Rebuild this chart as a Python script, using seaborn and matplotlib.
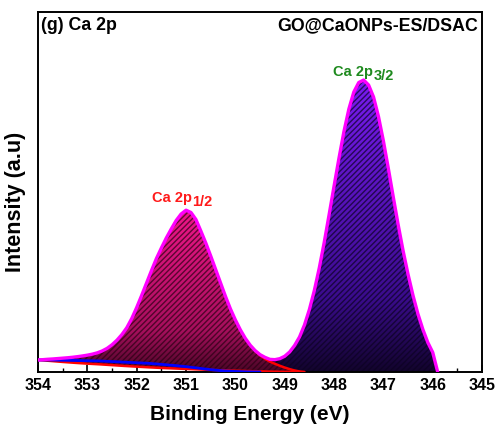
import matplotlib
matplotlib.use("Agg")
import numpy as np
import pandas as pd
import matplotlib.pyplot as plt
import seaborn as sns
from matplotlib.patches import Polygon
from matplotlib.colors import LinearSegmentedColormap
from matplotlib.ticker import MultipleLocator

# ---------------------------------------------------------------------------
# Ca 2p XPS fit of GO@CaONPs-ES/DSAC
# ---------------------------------------------------------------------------
# Fitted envelope (binding energy in eV, intensity in a.u.)
envelope_ev = [
    354.0, 353.9, 353.8, 353.7, 353.6, 353.5, 353.4, 353.3, 353.2, 353.1,
    353.0, 352.9, 352.8, 352.7, 352.6, 352.5, 352.4, 352.3, 352.2, 352.1,
    352.0, 351.9, 351.8, 351.7, 351.6, 351.5, 351.4, 351.3, 351.2, 351.1,
    351.0, 350.9, 350.8, 350.7, 350.6, 350.5, 350.4, 350.3, 350.2, 350.1,
    350.0, 349.9, 349.8, 349.7, 349.6, 349.5, 349.4, 349.3, 349.2, 349.1,
    349.0, 348.9, 348.8, 348.7, 348.6, 348.5, 348.4, 348.3, 348.2, 348.1,
    348.0, 347.9, 347.8, 347.7, 347.6, 347.5, 347.4, 347.3, 347.2, 347.1,
    347.0, 346.9, 346.8, 346.7, 346.6, 346.5, 346.4, 346.3, 346.2, 346.1,
    346.0, 345.9,
]
envelope_int = [
    12.0, 12.3, 12.7, 13.0, 13.4, 13.8, 14.2, 14.7, 15.3, 16.0,
    16.8, 17.8, 19.1, 21.0, 23.6, 27.2, 31.8, 37.4, 44.3, 53.5,
    64.5, 76.5, 89.0, 101.5, 113.5, 124.0, 134.0, 143.0, 151.5, 158.0,
    161.8, 159.5, 152.5, 141.0, 129.0, 116.0, 102.5, 89.0, 75.5, 63.0,
    52.0, 42.2, 33.7, 26.8, 21.4, 17.3, 14.6, 12.6, 12.3, 13.3,
    15.7, 20.0, 26.5, 35.0, 47.0, 62.5, 81.5, 104.0, 129.5, 157.5,
    186.0, 214.0, 240.5, 263.0, 280.0, 289.5, 292.0, 287.0, 275.0, 255.5,
    231.0, 203.5, 175.0, 147.0, 121.0, 97.5, 76.5, 58.0, 42.5, 29.5,
    19.5, 0.0,
]
valley_ev = 349.3

# Baseline under the Ca 2p1/2 component (red)
baseline_ev = [354.0, 353.75, 353.5, 353.25, 353.0, 352.75, 352.5, 352.25,
               352.0, 351.75, 351.5, 351.25, 351.0, 350.75, 350.5, 350.25,
               350.0, 349.75, 349.5, 349.25, 349.0, 348.75]
baseline_int = [12.0, 11.0, 10.0, 9.1, 8.3, 7.6, 6.8, 6.0,
                5.3, 4.6, 4.0, 3.5, 3.0, 2.5, 2.0, 1.6,
                1.2, 0.9, 0.6, 0.3, 0.1, 0.0]

# High-energy tail of the Ca 2p1/2 component past the valley (red)
p12_tail_ev = [349.6, 349.5, 349.4, 349.3, 349.2, 349.1, 349.0, 348.9,
               348.8, 348.7, 348.6]
p12_tail_int = [21.0, 16.6, 13.1, 10.3, 8.2, 6.2, 4.4, 2.8, 1.5, 0.5, 0.0]

# Shirley-type background (blue)
shirley_ev = [354.0, 353.75, 353.5, 353.25, 353.0, 352.75, 352.5, 352.25,
              352.0, 351.75, 351.5, 351.25, 351.0, 350.75, 350.5, 350.25,
              350.0, 349.75, 349.5]
shirley_int = [12.0, 11.9, 11.7, 11.5, 11.2, 11.0, 10.4, 9.8,
               9.2, 8.6, 7.6, 6.5, 5.3, 3.8, 2.3, 1.1,
               0.5, 0.1, 0.0]

peak_names = ["Ca 2p", "Ca 2p"]
peak_subs = ["1/2", "3/2"]
peak_label_ev = [351.70, 348.02]
peak_label_int = [170.0, 296.0]
peak_label_colors = ["#ff1a1a", "#1e8a1e"]

x_ticks = [354, 353, 352, 351, 350, 349, 348, 347, 346, 345]

# ---------------------------------------------------------------------------
sns.set_theme(style="white")
plt.rcParams["font.family"] = ["Liberation Sans", "DejaVu Sans"]
plt.rcParams["font.weight"] = "bold"
plt.rcParams["axes.labelweight"] = "bold"
plt.rcParams["text.color"] = "black"
plt.rcParams["axes.labelcolor"] = "black"
plt.rcParams["xtick.color"] = "black"
plt.rcParams["hatch.linewidth"] = 1.0

fig, ax = plt.subplots(figsize=(4.97, 4.30), dpi=100)
fig.subplots_adjust(left=0.0765, right=0.970, bottom=0.135, top=0.972)

env = pd.DataFrame({"ev": envelope_ev, "intensity": envelope_int})
base = pd.DataFrame({"ev": baseline_ev, "intensity": baseline_int})
tail = pd.DataFrame({"ev": p12_tail_ev, "intensity": p12_tail_int})
shir = pd.DataFrame({"ev": shirley_ev, "intensity": shirley_int})

left_env = env[env["ev"] >= valley_ev]
right_env = env[env["ev"] <= valley_ev]
tail_after = tail[tail["ev"] <= valley_ev]

# Region of the Ca 2p1/2 component: envelope on top, red baseline below
poly1 = np.vstack([
    left_env[["ev", "intensity"]].to_numpy(),
    tail_after[["ev", "intensity"]].to_numpy(),
    base[["ev", "intensity"]].to_numpy()[::-1],
])
# Region of the Ca 2p3/2 component
poly2 = np.vstack([
    right_env[["ev", "intensity"]].to_numpy(),
    [[right_env["ev"].iloc[-1], 0.0], [tail_after["ev"].iloc[-1], 0.0]],
    tail_after[["ev", "intensity"]].to_numpy()[::-1],
])

cmap1 = LinearSegmentedColormap.from_list(
    "p12", [(0.0, "#4a0626"), (0.25, "#a50f5c"), (1.0, "#f0168a")])
cmap2 = LinearSegmentedColormap.from_list(
    "p32", [(0.0, "#12042c"), (0.25, "#3a0c8c"), (1.0, "#7a1cf2")])

grad = np.linspace(0, 1, 256).reshape(-1, 1)
for verts, cmap, hatch_col in [(poly1, cmap1, "#2a0014"), (poly2, cmap2, "#0c0222")]:
    top = verts[:, 1].max()
    clip = Polygon(verts, closed=True, facecolor="none", edgecolor="none",
                   transform=ax.transData)
    ax.add_patch(clip)
    im = ax.imshow(grad, extent=[verts[:, 0].max(), verts[:, 0].min(), 0, top],
                   origin="lower", aspect="auto", cmap=cmap, zorder=1)
    im.set_clip_path(clip)
    ax.add_patch(Polygon(verts, closed=True, facecolor="none",
                         edgecolor=hatch_col, hatch="//////", linewidth=0,
                         alpha=0.7, zorder=2))

sns.lineplot(data=base, x="ev", y="intensity", ax=ax, color="#ff0000",
             linewidth=1.8, sort=False, estimator=None, zorder=3)
sns.lineplot(data=shir, x="ev", y="intensity", ax=ax, color="#0000ff",
             linewidth=2.0, sort=False, estimator=None, zorder=3)
sns.lineplot(data=tail, x="ev", y="intensity", ax=ax, color="#ff0000",
             linewidth=1.8, sort=False, estimator=None, zorder=3)
sns.lineplot(data=env, x="ev", y="intensity", ax=ax, color="#ff00ff",
             linewidth=2.4, sort=False, estimator=None, zorder=4)

for name, sub, xe, yi, col in zip(peak_names, peak_subs, peak_label_ev,
                                  peak_label_int, peak_label_colors):
    t = ax.text(xe, yi, name, color=col, fontsize=10.5, fontweight="bold",
                ha="left", va="baseline", zorder=5)
    ax.annotate(sub, xy=(1.0, 0.0), xycoords=t, xytext=(0.3, -1.0),
                textcoords="offset points", color=col, fontsize=10.5,
                fontweight="bold", ha="left", va="baseline", zorder=5)

ax.text(0.006, 0.962, "(g) Ca 2p", transform=ax.transAxes, fontsize=12.8,
        fontweight="bold", ha="left", va="center")
ax.text(0.991, 0.962, "GO@CaONPs-ES/DSAC", transform=ax.transAxes,
        fontsize=12.8, fontweight="bold", ha="right", va="center")

ax.set_xlim(354, 345)
ax.set_ylim(0, 360)
ax.set_xticks(x_ticks)
ax.set_xticklabels([str(t) for t in x_ticks])
ax.xaxis.set_minor_locator(MultipleLocator(0.5))
ax.set_yticks([])
ax.tick_params(axis="x", which="major", direction="in", length=5, width=1.2,
               labelsize=11.5, pad=4, bottom=True, top=False, colors="black")
ax.tick_params(axis="x", which="minor", direction="in", length=3, width=1.0,
               bottom=True, top=False)
for lbl in ax.get_xticklabels():
    lbl.set_fontweight("bold")

for sp in ax.spines.values():
    sp.set_color("black")
    sp.set_linewidth(1.4)

ax.set_xlabel("Binding Energy (eV)", fontsize=15, fontweight="bold")
ax.set_ylabel("Intensity (a.u)", fontsize=15.5, fontweight="bold")
ax.xaxis.set_label_coords(0.477, -0.119)
ax.xaxis.label.set_va("center")
ax.yaxis.set_label_coords(-0.050, 0.472)
ax.yaxis.label.set_va("center")

fig.savefig("out.png", dpi=100)
